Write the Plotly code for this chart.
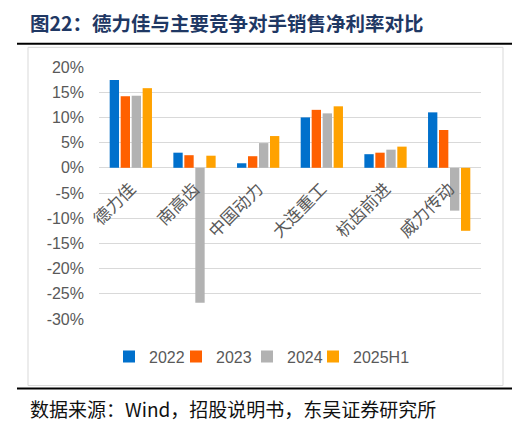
import plotly.graph_objects as go

categories = ["德力佳", "南高齿", "中国动力", "大连重工", "杭齿前进", "威力传动"]
series_names = ["2022", "2023", "2024", "2025H1"]
v2022 = [17.4, 3.0, 0.9, 10.0, 2.7, 11.0]
v2023 = [14.2, 2.5, 2.3, 11.5, 3.0, 7.5]
v2024 = [14.3, -26.8, 4.9, 10.8, 3.6, -8.5]
v2025h1 = [15.8, 2.4, 6.3, 12.2, 4.2, -12.5]
y_ticks = [20, 15, 10, 5, 0, -5, -10, -15, -20, -25, -30]
y_tick_labels = [f"{v}%" for v in y_ticks]

colors = ["#0070CC", "#FF6000", "#B2B2B2", "#FFA200"]
OFF = 8  # page body margin in the browser
W, H = 520 - OFF, 430 - OFF
# plot area in screenshot pixels
L, R, T, B = 99, 481, 66.7, 319.3
YMIN, YMAX = -30, 20


def px_x(x):
    return (x - L) / (R - L)


def px_y(y):
    return (B - y) / (B - T)


legend_ids = ["legend", "legend2", "legend3", "legend4"]
legend_x = [109, 176, 247, 313]

fig = go.Figure()
for name, vals, c, lid in zip(series_names, [v2022, v2023, v2024, v2025h1], colors, legend_ids):
    fig.add_trace(go.Bar(name=name, x=categories, y=vals, legend=lid,
                         marker=dict(color=c, line=dict(width=0))))

grey = "#595959"
legend_common = dict(orientation="h", xanchor="left", y=px_y(357), yanchor="middle",
                     font=dict(family="Liberation Sans, Arial", size=16, color=grey),
                     itemwidth=30, bgcolor="rgba(0,0,0,0)")
fig.update_layout(
    width=W, height=H,
    margin=dict(l=L - OFF, r=W - (R - OFF), t=T - OFF, b=H - (B - OFF), pad=0, autoexpand=False),
    paper_bgcolor="white", plot_bgcolor="white",
    barmode="group", bargap=0.31, bargroupgap=0.15,
    font=dict(family="Liberation Sans, Arial", size=16, color=grey),
    showlegend=True,
    xaxis=dict(type="category", anchor="free", position=(0 - YMIN) / (YMAX - YMIN),
               tickangle=-45, showline=False, showgrid=False, ticks="", automargin=False,
               ticklabelstandoff=7,
               tickfont=dict(family="Noto Sans CJK SC", size=17, color=grey)),
    yaxis=dict(range=[YMIN, YMAX], tickvals=y_ticks, ticktext=y_tick_labels, automargin=False,
               showgrid=True, gridcolor="#D9D9D9", gridwidth=1,
               zeroline=True, zerolinecolor="#D9D9D9", zerolinewidth=1,
               showline=False, ticks="", ticklabelstandoff=14,
               tickfont=dict(family="Liberation Sans, Arial", size=16, color=grey)),
)
for lid, lx in zip(legend_ids, legend_x):
    fig.update_layout({lid: dict(legend_common, x=px_x(lx))})

shapes = [
    dict(type="rect", xref="paper", yref="paper", x0=px_x(28), x1=px_x(503), y0=px_y(386), y1=px_y(47),
         line=dict(color="#D9D9D9", width=1), fillcolor="rgba(0,0,0,0)", layer="below"),
    dict(type="line", xref="paper", yref="paper", x0=px_x(17), x1=px_x(514), y0=px_y(43.5), y1=px_y(43.5),
         line=dict(color="black", width=2)),
    dict(type="line", xref="paper", yref="paper", x0=px_x(17), x1=px_x(514), y0=px_y(389), y1=px_y(389),
         line=dict(color="black", width=2)),
]
fig.update_layout(shapes=shapes)

fig.add_annotation(text="<b>图22：德力佳与主要竞争对手销售净利率对比</b>", xref="paper", yref="paper",
                   x=px_x(28), y=px_y(22), xanchor="left", yanchor="middle", showarrow=False,
                   font=dict(family="Noto Sans CJK SC", size=19.5, color="#1F3864"))
fig.add_annotation(text="数据来源：Wind，招股说明书，东吴证券研究所", xref="paper", yref="paper",
                   x=px_x(28), y=px_y(409), xanchor="left", yanchor="middle", showarrow=False,
                   font=dict(family="Noto Sans CJK SC", size=19, color="#111111"))

fig.write_html("out.html")
